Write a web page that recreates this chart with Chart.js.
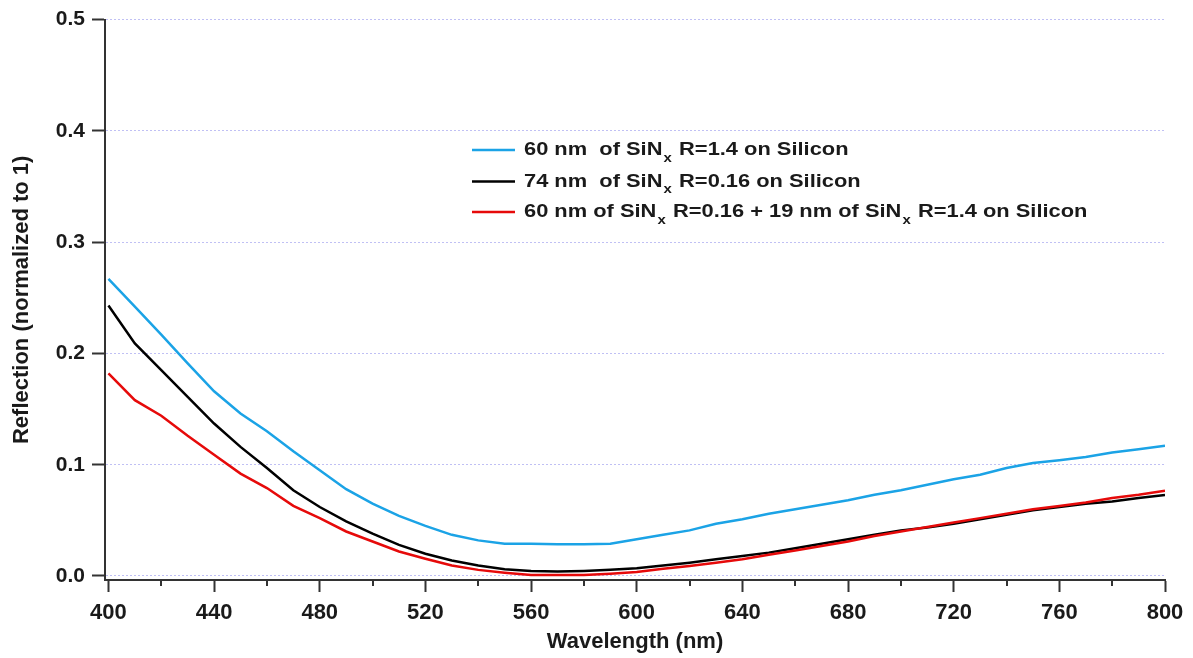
<!DOCTYPE html>
<html><head><meta charset="utf-8">
<script src="https://cdn.jsdelivr.net/npm/chart.js@4.4.0/dist/chart.umd.min.js"></script>
<style>html,body{margin:0;padding:0;background:#fff;}#wrap{width:1193px;height:658px;}</style>
</head><body><div id="wrap"><canvas id="c" width="1193" height="658"></canvas></div>
<script>
const wavelengths = [400,410,420,430,440,450,460,470,480,490,500,510,520,530,540,550,560,570,580,590,600,610,620,630,640,650,660,670,680,690,700,710,720,730,740,750,760,770,780,790,800];
const sinx60R14 = [0.267,0.242,0.217,0.191,0.166,0.146,0.130,0.112,0.095,0.078,0.065,0.054,0.045,0.037,0.032,0.029,0.029,0.0285,0.0285,0.029,0.033,0.037,0.041,0.047,0.051,0.056,0.060,0.064,0.068,0.073,0.077,0.082,0.087,0.091,0.097,0.1015,0.104,0.107,0.111,0.114,0.117];
const sinx74R016 = [0.243,0.209,0.185,0.161,0.137,0.116,0.097,0.077,0.062,0.049,0.038,0.028,0.020,0.014,0.0095,0.006,0.0045,0.004,0.0045,0.0055,0.007,0.0095,0.012,0.015,0.018,0.021,0.025,0.029,0.033,0.037,0.041,0.0435,0.047,0.051,0.055,0.059,0.062,0.065,0.067,0.070,0.0727];
const doubleLayer = [0.182,0.158,0.144,0.126,0.109,0.092,0.079,0.063,0.052,0.040,0.031,0.022,0.0155,0.0095,0.0055,0.003,0.001,0.0008,0.001,0.002,0.0035,0.0065,0.009,0.012,0.015,0.019,0.023,0.027,0.031,0.036,0.040,0.044,0.048,0.052,0.056,0.060,0.063,0.066,0.070,0.073,0.0766];
const seriesLabels = ['60 nm  of SiNₓ R=1.4 on Silicon','74 nm  of SiNₓ R=0.16 on Silicon','60 nm of SiNₓ R=0.16 + 19 nm of SiNₓ R=1.4 on Silicon'];
const seriesColors = ['#1ba3e6','#000000','#e60a0a'];
const xTickValues = [400,420,440,460,480,500,520,540,560,580,600,620,640,660,680,700,720,740,760,780,800];
const yTickValues = [0,0.1,0.2,0.3,0.4,0.5];

const FONT = '"Liberation Sans", Arial, sans-serif';
const TXT = '#1a1a1a';

const pts = arr => wavelengths.map((w,i)=>({x:w,y:arr[i]}));

const extrasPlugin = {
  id:'extras',
  afterDraw(chart){
    const ctx = chart.ctx, ca = chart.chartArea, xs = chart.scales.x;
    ctx.save();
    // minor x ticks
    ctx.strokeStyle = '#333'; ctx.lineWidth = 2;
    xTickValues.forEach(v=>{
      if (v % 40 !== 0){
        const px = Math.round(xs.getPixelForValue(v));
        ctx.beginPath(); ctx.moveTo(px, ca.bottom); ctx.lineTo(px, ca.bottom+6); ctx.stroke();
      }
    });
    // legend with subscripts
    const x0 = ca.left + 367, lineLen = 43, textX = ca.left + 419;
    const rows = [150, 181.5, 212];
    const sx = 1.15;
    chart.data.datasets.forEach((ds,i)=>{
      const y = rows[i];
      ctx.strokeStyle = ds.borderColor; ctx.lineWidth = 2.5;
      ctx.beginPath(); ctx.moveTo(x0,y); ctx.lineTo(x0+lineLen,y); ctx.stroke();
      ctx.save();
      ctx.translate(textX, 0);
      ctx.scale(sx, 1);
      let x = 0;
      ctx.textBaseline = 'middle'; ctx.fillStyle = TXT;
      ds.label.split(/(ₓ)/).forEach(part=>{
        if (!part) return;
        if (part === 'ₓ'){
          ctx.font = 'bold 13px ' + FONT;
          ctx.fillText('x', x+1, y+8);
          x += ctx.measureText('x').width + 2;
        } else {
          ctx.font = 'bold 19px ' + FONT;
          ctx.fillText(part, x, y);
          x += ctx.measureText(part).width;
        }
      });
      ctx.restore();
    });
    ctx.restore();
  }
};

new Chart(document.getElementById('c'), {
  type:'line',
  data:{
    datasets:[
      {label:seriesLabels[0], data:pts(sinx60R14), borderColor:seriesColors[0], order:2},
      {label:seriesLabels[1], data:pts(sinx74R016), borderColor:seriesColors[1], order:1},
      {label:seriesLabels[2], data:pts(doubleLayer), borderColor:seriesColors[2], order:0}
    ]
  },
  options:{
    responsive:false, animation:false, devicePixelRatio:1,
    layout:{padding:{top:19,right:28,left:0,bottom:0}},
    elements:{line:{borderWidth:2.5, tension:0, fill:false}, point:{radius:0}},
    plugins:{legend:{display:false}, tooltip:{enabled:false}},
    scales:{
      x:{type:'linear', min:398.7, max:800,
        afterBuildTicks: s => { s.ticks = xTickValues.map(v=>({value:v})); },
        ticks:{autoSkip:false, maxRotation:0, font:{family:FONT,size:22,weight:'bold'}, color:TXT, padding:8,
          callback: v => (v % 40 === 0) ? String(v) : ''},
        grid:{drawOnChartArea:false, tickLength:12, tickWidth:2,
          tickColor: c => (c.tick && c.tick.value % 40 === 0) ? '#333' : 'rgba(0,0,0,0)'},
        border:{color:'#333', width:2},
        title:{display:true, text:'Wavelength (nm)', font:{family:FONT,size:22,weight:'bold'}, color:TXT, padding:{top:0,bottom:3}},
        afterFit: s => { s.height = 78; }
      },
      y:{min:-0.0036, max:0.5,
        afterBuildTicks: s => { s.ticks = yTickValues.map(v=>({value:v})); },
        ticks:{font:{family:FONT,size:21,weight:'bold'}, color:TXT, padding:7, callback: v => Number(v).toFixed(1)},
        grid:{color:'rgba(140,140,235,0.55)', lineWidth:1, tickLength:13, tickColor:'#333', tickWidth:2, tickBorderDash:[]},
        border:{color:'#333', width:2, dash:[2,2]},
        title:{display:true, text:'Reflection (normalized to 1)', font:{family:FONT,size:22,weight:'bold'}, color:TXT, padding:{top:9,bottom:0}},
        afterFit: s => { s.width = 105; }
      }
    }
  },
  plugins:[extrasPlugin]
});
</script>
</body></html>
